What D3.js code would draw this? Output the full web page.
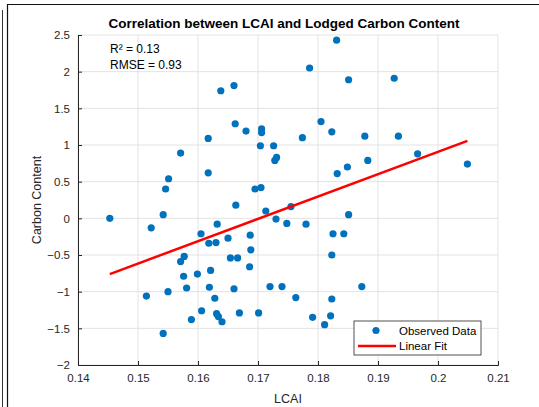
<!DOCTYPE html>
<html>
<head>
<meta charset="utf-8">
<script src="https://d3js.org/d3.v7.min.js"></script>
<style>
  body { margin: 0; background: #fff; }
  svg { font-family: "Liberation Sans", Arial, sans-serif; }
</style>
</head>
<body>
<div id="chart"></div>
<script>
// observed points (LCAI vs carbon content)
const lcai = [
  0.1453, 0.1514, 0.1522, 0.1542, 0.1542, 0.1546, 0.1550, 0.1551, 0.1571, 0.1577,
  0.1571, 0.1576, 0.1581, 0.1589, 0.1599, 0.1605, 0.1606, 0.1617, 0.1617, 0.1618,
  0.1619, 0.1621, 0.1628, 0.1630, 0.1631, 0.1634, 0.1632, 0.1638, 0.1640, 0.1650,
  0.1654, 0.1660, 0.1660, 0.1662, 0.1663, 0.1666, 0.1669, 0.1680, 0.1686, 0.1687,
  0.1688, 0.1695, 0.1701, 0.1704, 0.1705, 0.1706, 0.1706, 0.1713, 0.1720, 0.1726,
  0.1728, 0.1730, 0.1731, 0.1740, 0.1748, 0.1755, 0.1763, 0.1774, 0.1780, 0.1786,
  0.1791, 0.1805, 0.1811, 0.1821, 0.1823, 0.1823, 0.1823, 0.1825, 0.1831, 0.1832,
  0.1843, 0.1849, 0.1851, 0.1851, 0.1873, 0.1878, 0.1883, 0.1927, 0.1934, 0.1966,
  0.2049
];
const carbon = [
  0.00, -1.06, -0.13, 0.05, -1.57, 0.40, -1.00, 0.54, 0.89, -0.52,
  -0.59, -0.79, -0.95, -1.38, -0.76, -0.21, -1.26, 1.09, 0.62, -0.34,
  -0.94, -0.71, -1.09, -0.33, -1.30, -1.34, -0.08, 1.74, -1.41, -0.27,
  -0.54, 1.81, -0.96, 1.29, 0.18, -0.54, -1.29, 1.19, -0.66, -0.23,
  -0.43, 0.40, -1.29, 0.99, 0.42, 1.22, 1.17, 0.10, -0.93, 0.99,
  0.79, -0.01, 0.83, -0.93, -0.07, 0.16, -1.08, 1.10, -0.08, 2.05,
  -1.35, 1.32, -1.45, -1.33, 1.18, -1.10, -0.50, -0.21, 2.43, 0.61,
  -0.21, 0.70, 1.89, 0.05, -0.93, 1.12, 0.79, 1.91, 1.12, 0.88,
  0.74
];

// linear fit endpoints
const fitX = [0.1453, 0.2049];
const fitY = [-0.76, 1.057];

const xTicks = [0.14, 0.15, 0.16, 0.17, 0.18, 0.19, 0.2, 0.21];
const yTicks = [-2, -1.5, -1, -0.5, 0, 0.5, 1, 1.5, 2, 2.5];

const statLines = ['R\u00b2 = 0.13', 'RMSE = 0.93'];
const legendLabels = ['Observed Data', 'Linear Fit'];

const width = 539, height = 407;
const margin = {top: 35, right: 41, bottom: 42, left: 78};
const innerW = width - margin.left - margin.right;
const innerH = height - margin.top - margin.bottom;

const blue = '#0072BD';
const ink = '#262626';

const svg = d3.select('#chart').append('svg')
    .attr('width', width)
    .attr('height', height);

// figure frame lines
svg.append('line').attr('x1', 2.5).attr('x2', 2.5).attr('y1', 10).attr('y2', height)
    .attr('stroke', '#333').attr('stroke-width', 1);
svg.append('path').attr('d', `M7.5,${height}V4.5H${width}`)
    .attr('fill', 'none').attr('stroke', '#111').attr('stroke-width', 1.2);

const x = d3.scaleLinear().domain([0.14, 0.21]).range([0, innerW]);
const y = d3.scaleLinear().domain([-2, 2.5]).range([innerH, 0]);

const g = svg.append('g').attr('transform', `translate(${margin.left},${margin.top})`);

// grid
g.append('g').selectAll('line').data(xTicks).join('line')
    .attr('x1', d => x(d)).attr('x2', d => x(d))
    .attr('y1', 0).attr('y2', innerH)
    .attr('stroke', '#e3e3e3').attr('stroke-width', 1);
g.append('g').selectAll('line').data(yTicks).join('line')
    .attr('x1', 0).attr('x2', innerW)
    .attr('y1', d => y(d)).attr('y2', d => y(d))
    .attr('stroke', '#e3e3e3').attr('stroke-width', 1);

// axes
const xAxis = g.append('g')
    .attr('transform', `translate(0,${innerH})`)
    .call(d3.axisBottom(x).tickValues(xTicks).tickFormat(d3.format('')).tickSize(-4).tickPadding(8));
const yAxis = g.append('g')
    .call(d3.axisLeft(y).tickValues(yTicks).tickFormat(d3.format('')).tickSize(-4).tickPadding(8));

[xAxis, yAxis].forEach(a => {
    a.select('.domain').attr('stroke', ink);
    a.selectAll('.tick line').attr('stroke', ink);
    a.selectAll('.tick text').attr('fill', ink).attr('font-size', 11.5);
});
xAxis.selectAll('.tick text').attr('dy', '0.75em');

// points
g.append('g').selectAll('circle').data(lcai).join('circle')
    .attr('cx', d => x(d))
    .attr('cy', (d, i) => y(carbon[i]))
    .attr('r', 3.6)
    .attr('fill', blue);

// fit line
g.append('line')
    .attr('x1', x(fitX[0])).attr('y1', y(fitY[0]))
    .attr('x2', x(fitX[1])).attr('y2', y(fitY[1]))
    .attr('stroke', '#ff0000').attr('stroke-width', 2.5);

// title + labels
svg.append('text')
    .attr('x', margin.left + innerW / 2 - 4).attr('y', 28)
    .attr('text-anchor', 'middle')
    .attr('font-weight', 'bold').attr('font-size', 13.5)
    .attr('fill', '#000')
    .text('Correlation between LCAI and Lodged Carbon Content');

svg.append('text')
    .attr('x', margin.left + innerW / 2).attr('y', 403)
    .attr('text-anchor', 'middle')
    .attr('font-size', 12.5).attr('fill', ink)
    .text('LCAI');

svg.append('text')
    .attr('transform', `translate(41,${margin.top + innerH / 2}) rotate(-90)`)
    .attr('text-anchor', 'middle')
    .attr('font-size', 12.5).attr('fill', ink)
    .text('Carbon Content');

// stats annotation
g.append('g').selectAll('text').data(statLines).join('text')
    .attr('x', 32).attr('y', (d, i) => 18 + i * 16)
    .attr('font-size', 12).attr('fill', '#000')
    .text(d => d);

// legend
const lg = g.append('g').attr('transform', `translate(${354 - margin.left},${321 - margin.top})`);
lg.append('rect').attr('width', 127).attr('height', 34)
    .attr('fill', '#fff').attr('stroke', ink).attr('stroke-width', 0.8);
lg.append('circle').attr('cx', 22).attr('cy', 9.5).attr('r', 3.6).attr('fill', blue);
lg.append('line').attr('x1', 4).attr('x2', 42).attr('y1', 25).attr('y2', 25)
    .attr('stroke', '#ff0000').attr('stroke-width', 2.5);
lg.selectAll('text.lab').data(legendLabels).join('text')
    .attr('class', 'lab')
    .attr('x', 45).attr('y', (d, i) => 13.5 + i * 15.5)
    .attr('font-size', 11.5).attr('fill', '#000')
    .text(d => d);
</script>
</body>
</html>
